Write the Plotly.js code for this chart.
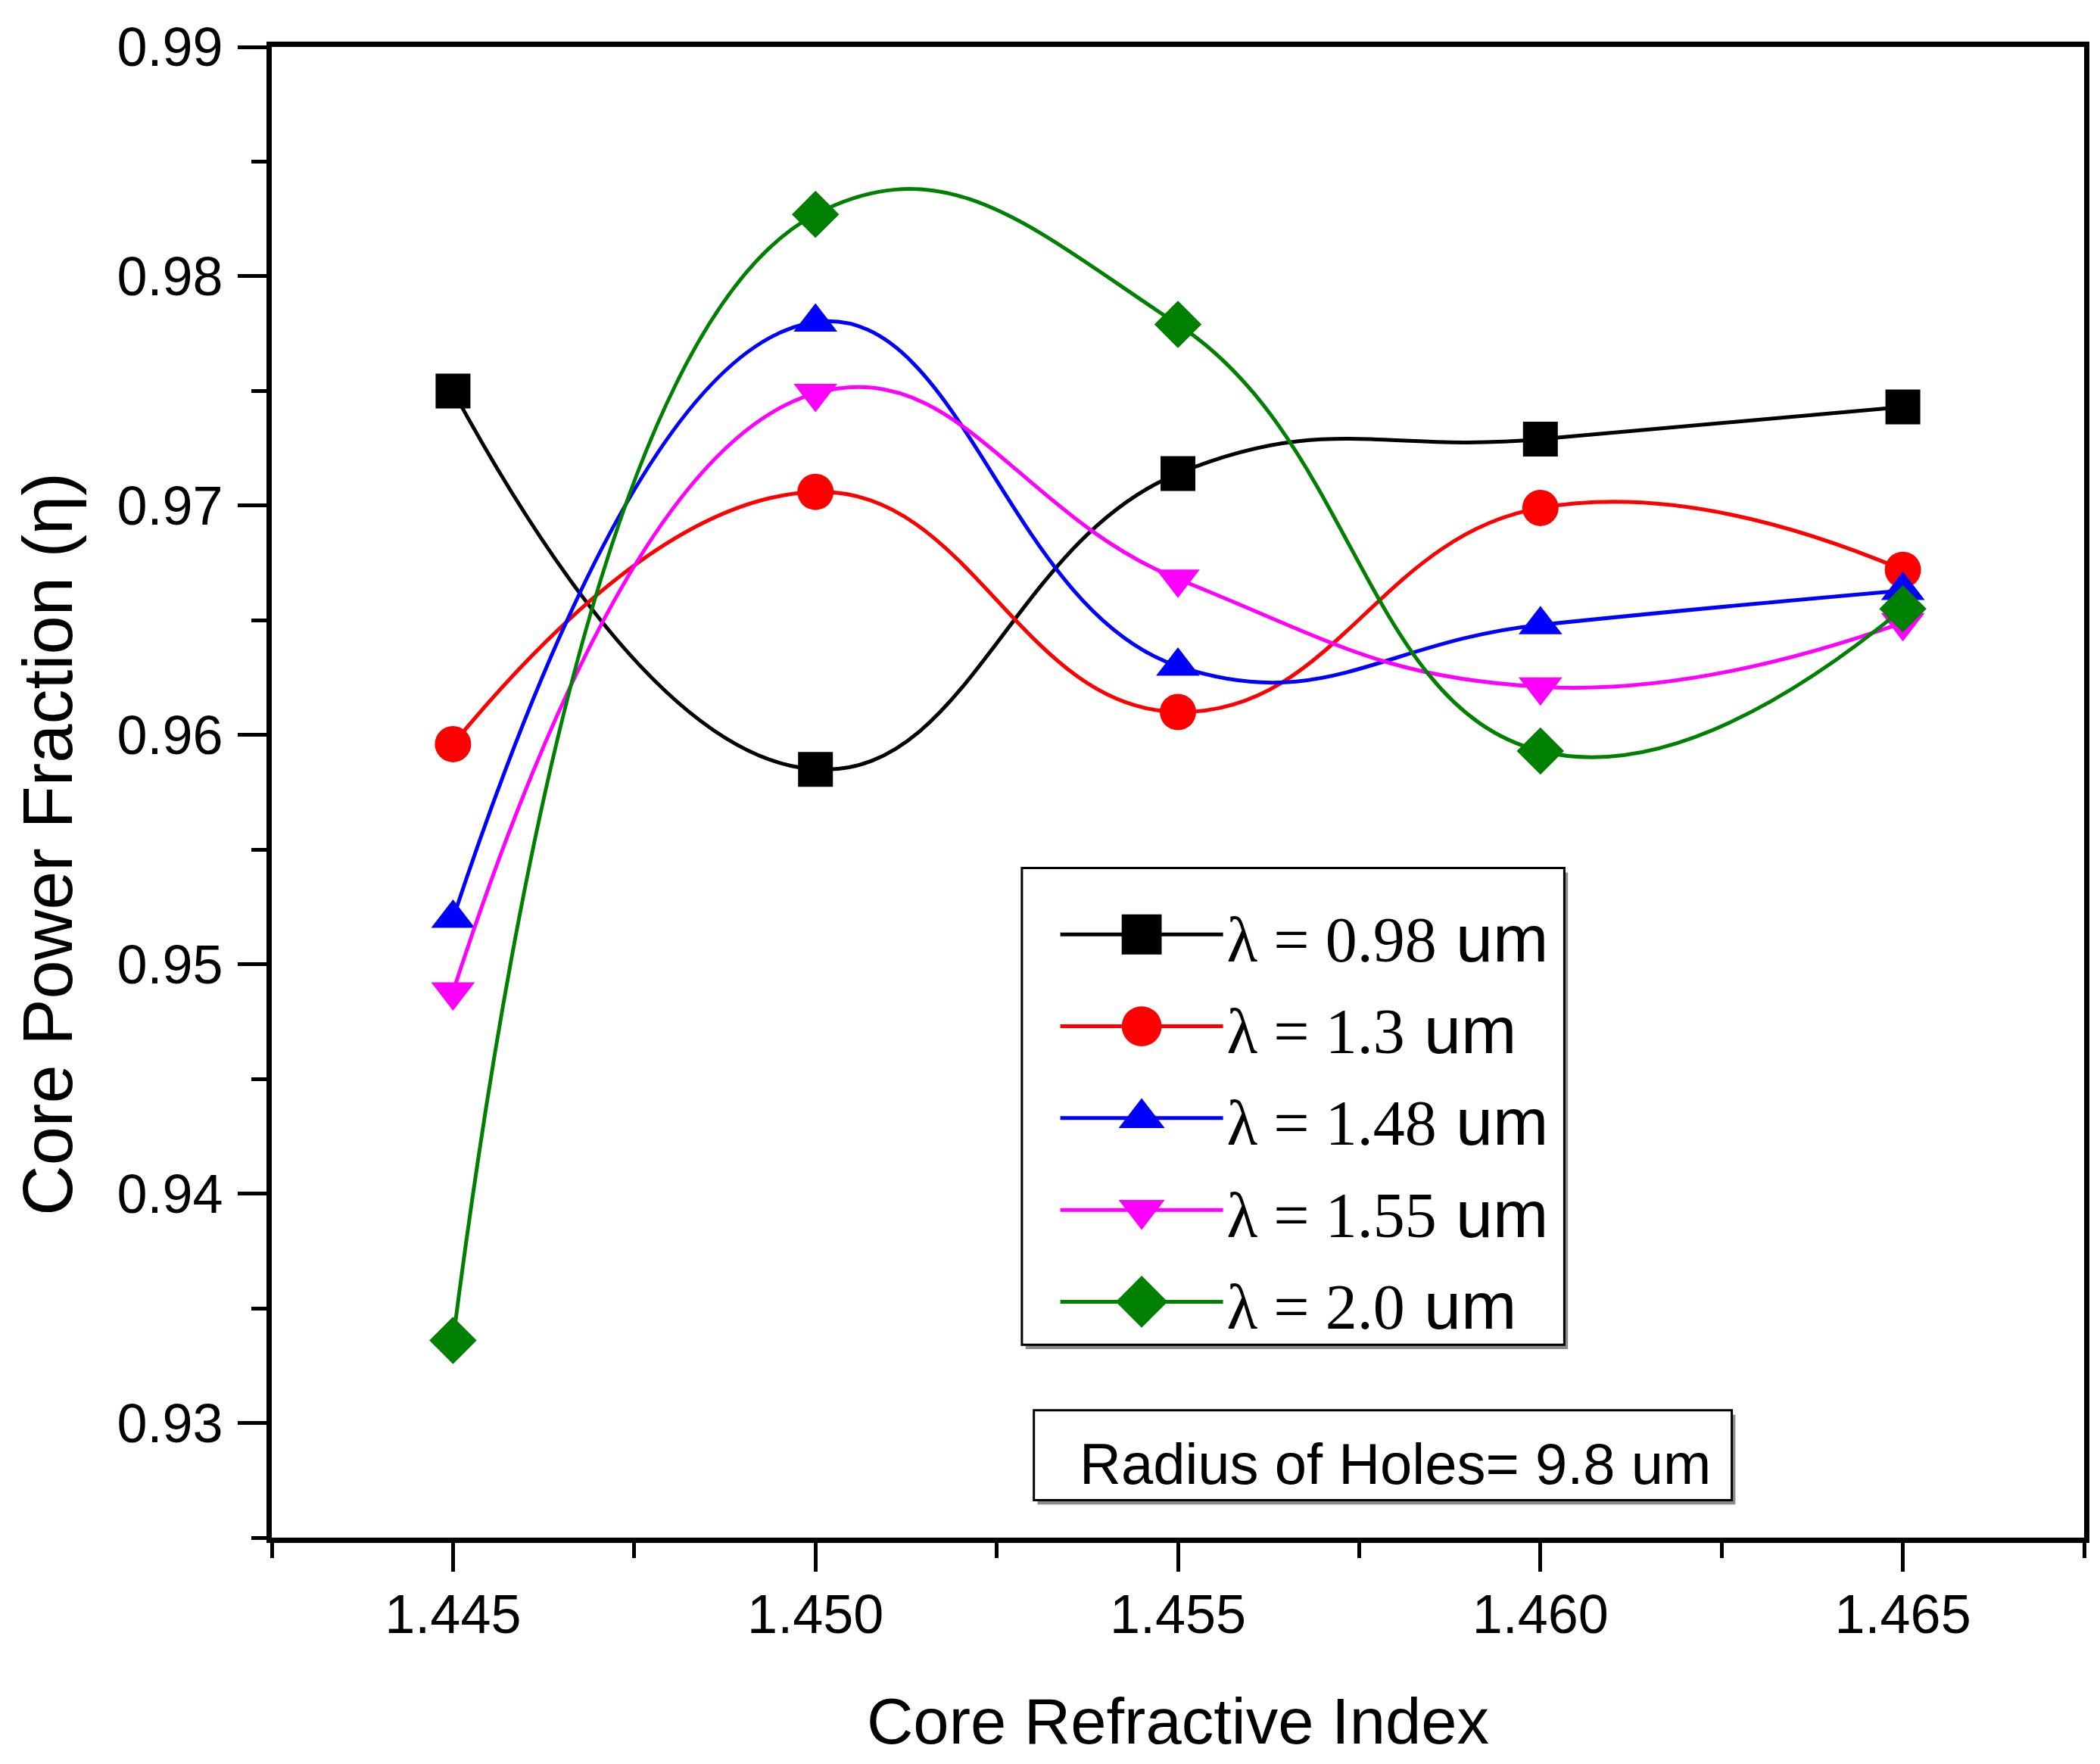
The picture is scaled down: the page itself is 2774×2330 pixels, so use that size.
<!DOCTYPE html>
<html>
<head>
<meta charset="utf-8">
<script src="https://cdn.plot.ly/plotly-3.0.1.min.js"></script>
<style>
  body { margin: 0; background: #fff; }
  #chart { width: 2774px; height: 2330px; }
</style>
</head>
<body>
<div id="chart"></div>
<script>
// core refractive index (x) and core power fraction for each wavelength
var coreIndex = [1.445, 1.450, 1.455, 1.460, 1.465];

var eta098 = [0.9750, 0.9585, 0.9714, 0.9729, 0.9743];
var eta130 = [0.9596, 0.9706, 0.9610, 0.9699, 0.9672];
var eta148 = [0.9520, 0.9780, 0.9630, 0.9648, 0.9663];
var eta155 = [0.9488, 0.9749, 0.9668, 0.9621, 0.9649];
var eta200 = [0.9336, 0.9827, 0.9779, 0.9593, 0.9655];

var seriesNames = ['0.98', '1.3', '1.48', '1.55', '2.0'];
var seriesVals = [eta098, eta130, eta148, eta155, eta200];
var seriesColors = ['#000000', '#ff0000', '#0000ff', '#ff00ff', '#008000'];
var seriesSymbols = ['square', 'circle', 'triangle-up', 'triangle-down', 'diamond'];
var markerSizes = [46, 48, 50, 50, 48];

var data = [];
for (var i = 0; i < seriesVals.length; i++) {
    data.push({
        x: coreIndex,
        y: seriesVals[i],
        type: 'scatter',
        mode: 'lines+markers',
        name: '<span style="font-family:\'Liberation Serif\';font-size:84px">λ = ' + seriesNames[i] + '</span> <span style="font-size:88px">um</span>',
        line: {color: seriesColors[i], width: 5, shape: 'spline', smoothing: 1.3},
        marker: {color: seriesColors[i], symbol: seriesSymbols[i], size: markerSizes[i]}
    });
}

var sans = 'Liberation Sans, Arial, sans-serif';
var axisFont = {family: sans, size: 72, color: '#000'};

// frame with a small grey drop shadow, like the Origin boxes
function box(x0, x1, y0, y1) {
    return [
        {type: 'rect', xref: 'paper', yref: 'paper', layer: 'below',
         x0: x0 + 0.002, x1: x1 + 0.002, y0: y0 - 0.003, y1: y1 - 0.003,
         fillcolor: '#8c8c8c', line: {width: 0}},
        {type: 'rect', xref: 'paper', yref: 'paper', layer: 'below',
         x0: x0, x1: x1, y0: y0, y1: y1,
         fillcolor: '#fff', line: {color: '#000', width: 3}}
    ];
}

var layout = {
    width: 2774,
    height: 2330,
    margin: {l: 359, r: 21, t: 62, b: 299},
    paper_bgcolor: '#fff',
    plot_bgcolor: 'rgba(0,0,0,0)',
    font: {family: sans, color: '#000'},
    showlegend: true,
    xaxis: {
        range: [1.4425, 1.4675],
        tick0: 1.445,
        dtick: 0.005,
        tickformat: '.3f',
        ticks: 'outside',
        ticklen: 38,
        tickwidth: 5,
        tickcolor: '#000',
        ticklabelstandoff: -5,
        tickfont: axisFont,
        showline: true,
        linewidth: 7,
        linecolor: '#000',
        mirror: true,
        showgrid: false,
        zeroline: false,
        minor: {tick0: 1.4425, dtick: 0.0025, ticks: 'outside', ticklen: 20, tickwidth: 5, tickcolor: '#000'},
        title: {text: 'Core Refractive Index', font: {size: 85}, standoff: 75}
    },
    yaxis: {
        range: [0.925, 0.99],
        tick0: 0.93,
        dtick: 0.01,
        tickformat: '.2f',
        ticks: 'outside',
        ticklen: 38,
        tickwidth: 5,
        tickcolor: '#000',
        ticklabelstandoff: 5,
        tickfont: axisFont,
        showline: true,
        linewidth: 7,
        linecolor: '#000',
        mirror: true,
        showgrid: false,
        zeroline: false,
        minor: {tick0: 0.925, dtick: 0.005, ticks: 'outside', ticklen: 20, tickwidth: 5, tickcolor: '#000'}
    },
    legend: {
        x: 0.433, y: 0.438, xanchor: 'left', yanchor: 'top',
        bgcolor: 'rgba(0,0,0,0)',
        borderwidth: 0,
        itemwidth: 215,
        font: {family: sans, size: 91, color: '#000'}
    },
    shapes: box(0.4139, 0.7132, 0.1294, 0.4492).concat(box(0.4205, 0.8056, 0.0252, 0.0854)),
    annotations: [
        {xref: 'paper', yref: 'paper', x: 0.620, y: 0.0494, xanchor: 'center', yanchor: 'middle',
         text: 'Radius of Holes= 9.8 um', showarrow: false,
         font: {family: sans, size: 76, color: '#000'}},
        // y axis title, sits a bit below the axis centre in the original
        {xref: 'paper', yref: 'paper', x: -0.124, y: 0.4654, xanchor: 'center', yanchor: 'middle',
         text: 'Core Power Fraction (η)', textangle: -90, showarrow: false,
         font: {family: sans, size: 92, color: '#000'}}
    ]
};

var gd = document.getElementById('chart');

// plotly caps legend markers at 16px, scale them up to the plot markers
function bigLegendMarkers() {
    document.querySelectorAll('g.legendpoints path.scatterpts').forEach(function (p) {
        if (p.getAttribute('data-big')) return;
        var t = p.getAttribute('transform') || '';
        p.setAttribute('transform', t + ' scale(3.3)');
        p.setAttribute('data-big', '1');
    });
}

Plotly.newPlot(gd, data, layout, {staticPlot: true}).then(function () {
    bigLegendMarkers();
});
</script>
</body>
</html>
